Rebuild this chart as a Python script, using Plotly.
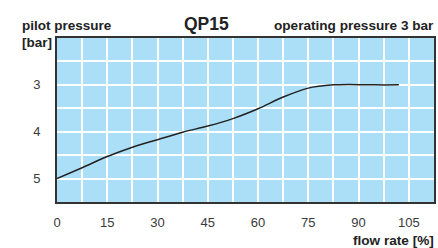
import plotly.graph_objects as go

flow_rate = [0, 7.5, 15, 22.5, 30, 37.5, 45, 52.5, 60, 67.5, 75, 82.5, 87, 95, 102]
pilot_pressure = [5.0, 4.77, 4.53, 4.33, 4.17, 4.01, 3.88, 3.72, 3.51, 3.26, 3.07, 3.0, 2.99, 3.0, 3.0]
x_ticks = [0, 15, 30, 45, 60, 75, 90, 105]
y_ticks = [3, 4, 5]
x_grid = [0, 7.5, 15, 22.5, 30, 37.5, 45, 52.5, 60, 67.5, 75, 82.5, 90, 97.5, 105, 112.5]
y_grid = [2, 2.5, 3, 3.5, 4, 4.5, 5, 5.5]

FONT = "Liberation Sans, Arial, sans-serif"
GRID = "#ffffff"

x_text = [str(v) if v in x_ticks else "" for v in x_grid]
y_text = [str(int(v)) if v in y_ticks else "" for v in y_grid]

fig = go.Figure()
fig.add_trace(go.Scatter(x=flow_rate, y=pilot_pressure, mode="lines",
                         line=dict(color="#222222", width=1.5, shape="spline", smoothing=0.8),
                         hoverinfo="skip", showlegend=False))

fig.update_layout(
    width=438, height=248,
    margin=dict(l=57, r=4, t=38, b=46, autoexpand=False),
    paper_bgcolor="white", plot_bgcolor="#abdff7",
    font=dict(family=FONT, size=13, color="#3a3a3a"),
    showlegend=False,
)
fig.update_xaxes(range=[0, 112.5], tickmode="array", tickvals=x_grid, ticktext=x_text,
                 showgrid=True, gridcolor=GRID, gridwidth=2,
                 zeroline=False, showline=True, linecolor="#333333",
                 linewidth=2, mirror=True, ticks="", ticklabelstandoff=7,
                 tickfont=dict(size=13, color="#3a3a3a"))
fig.update_yaxes(range=[5.5, 2], tickmode="array", tickvals=y_grid, ticktext=y_text,
                 showgrid=True, gridcolor=GRID, gridwidth=2,
                 zeroline=False, showline=True, linecolor="#333333",
                 linewidth=2, mirror=True, ticks="", ticklabelstandoff=12,
                 tickfont=dict(size=13, color="#3a3a3a"))

anns = [
    dict(text="<b>QP15</b>", x=206, y=24, font=dict(size=17.5, color="#222222")),
    dict(text="<b>pilot pressure</b>", x=20, y=26, xanchor="left", font=dict(size=13.5, color="#222222")),
    dict(text="<b>[bar]</b>", x=20, y=42, xanchor="left", font=dict(size=13.5, color="#222222")),
    dict(text="<b>operating pressure 3 bar</b>", x=436, y=26, xanchor="right", font=dict(size=13.6, color="#222222")),
    dict(text="<b>flow rate [%]</b>", x=436, y=240, xanchor="right", font=dict(size=13.6, color="#222222")),
]
for a in anns:
    px, py = a.pop("x"), a.pop("y")
    fig.add_annotation(xref="paper", yref="paper",
                       x=(px - 57) / (438 - 57 - 4), y=1 - (py - 38) / (248 - 38 - 46),
                       yanchor="middle", xanchor=a.pop("xanchor", "center"),
                       showarrow=False, **a)

fig.write_html("out.html", config={"displayModeBar": False, "staticPlot": True},
               post_script="document.body.style.margin='0';document.body.style.overflow='hidden';")
